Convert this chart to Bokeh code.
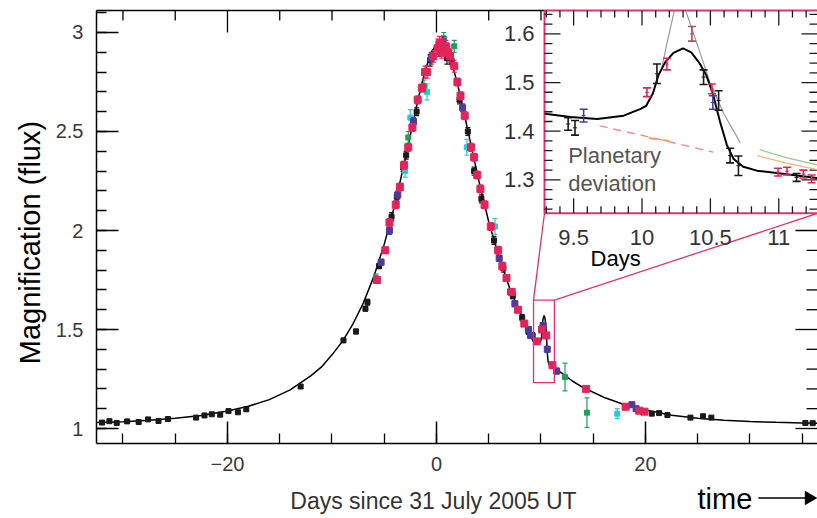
import numpy as np
from bokeh.plotting import figure
from bokeh.models import Range1d, FixedTicker
from bokeh.core.properties import value
from bokeh.embed import file_html
from bokeh.resources import INLINE

# ---------------- data ----------------
# model light curve (days since 31 July 2005, magnification)
curve_t = [-32.5, -30, -27.5, -25, -22.5, -20, -18, -16, -14, -12, -11, -10, -9, -8, -7, -6, -5, -4,
           -3, -2.5, -2, -1.5, -1, -0.5, 0, 0.3, 0.6, 1, 1.5, 2, 2.5, 3, 4, 5, 6, 7, 8, 9,
           9.29, 9.477, 9.672, 9.866, 9.99, 10.03, 10.08, 10.12, 10.17, 10.23, 10.30, 10.36, 10.42,
           10.47, 10.52, 10.57, 10.62, 10.67, 10.74, 10.84, 10.985, 11.131, 11.28,
           12, 13, 14, 16, 18, 20, 22.5, 25, 27.5, 30, 32.5, 35, 36.5]
curve_m = [1.030, 1.034, 1.042, 1.052, 1.066, 1.088, 1.112, 1.146, 1.195, 1.267, 1.311, 1.372, 1.440, 1.527,
           1.634, 1.767, 1.930, 2.128, 2.358, 2.481, 2.605, 2.721, 2.822, 2.899, 2.942, 2.948, 2.942,
           2.910, 2.840, 2.743, 2.629, 2.506, 2.263, 2.044, 1.861, 1.710, 1.585, 1.470,
           1.436, 1.429, 1.425, 1.432, 1.446, 1.452, 1.478, 1.515, 1.542, 1.561, 1.570, 1.562, 1.540,
           1.515, 1.475, 1.420, 1.372, 1.343, 1.327, 1.319, 1.314, 1.309, 1.304,
           1.280, 1.240, 1.208, 1.158, 1.120, 1.094, 1.067, 1.052, 1.042, 1.035, 1.031, 1.028, 1.026]

# observations (time, magnification, error) per telescope colour
black_t = [-32.0, -31.3, -30.6, -29.6, -28.5, -27.6, -26.6, -25.7, -23.0, -22.2, -21.5, -20.7, -19.9, -19.0,
           -18.2, -13.0, -8.9, -7.7, -6.8, -6.6, -5.5, -4.3, -3.8, -3.2, -2.9, -1.9, -0.6, 0.3, 1.0, 1.5,
           2.2, 3.0, 3.6, 4.3, 5.5, 6.4, 7.3, 8.2, 8.8, 9.2, 20.6, 21.3, 22.1, 24.3, 25.5, 26.3, 35.3, 36.0]
black_m = [1.030, 1.037, 1.028, 1.036, 1.033, 1.046, 1.038, 1.048, 1.055, 1.066, 1.072, 1.070, 1.088, 1.082,
           1.097, 1.212, 1.445, 1.490, 1.605, 1.638, 1.82, 2.07, 2.17, 2.32, 2.38, 2.60, 2.86, 2.91, 2.87, 2.85,
           2.66, 2.50, 2.30, 2.16, 1.95, 1.81, 1.67, 1.56, 1.49, 1.47, 1.075, 1.078, 1.068, 1.055, 1.062,
           1.055, 1.028, 1.027]
black_e = [0.007, 0.006, 0.006, 0.007, 0.006, 0.007, 0.006, 0.007, 0.006, 0.007, 0.006, 0.007, 0.007, 0.006,
           0.007, 0.008, 0.010, 0.012, 0.012, 0.015, 0.012, 0.02, 0.02, 0.02, 0.02, 0.02, 0.03, 0.03, 0.03,
           0.02, 0.02, 0.02, 0.02, 0.02, 0.02, 0.02, 0.015, 0.015, 0.015, 0.015, 0.006, 0.006, 0.006, 0.007,
           0.008, 0.006, 0.006, 0.006]

red_t = [-5.7, -4.9, -4.5, -3.9, -3.5, -3.1, -2.7, -2.3, -1.8, -1.4, -1.1, -0.9, -0.3, 0.1, 0.3, 0.5, 0.7,
         0.9, 1.1, 1.3, 1.7, 2.0, 2.3, 2.7, 3.3, 3.6, 3.9, 4.2, 4.6, 5.2, 5.9, 6.3, 6.7, 7.2, 7.8, 8.4,
         9.6, 10.1, 10.5, 11.1, 14.3, 18.1, 19.4, 19.9]
red_m = [1.75, 1.90, 2.04, 2.13, 2.22, 2.33, 2.42, 2.52, 2.66, 2.72, 2.80, 2.80, 2.88, 2.92, 2.95, 2.90, 2.91,
         2.93, 2.90, 2.88, 2.83, 2.75, 2.68, 2.58, 2.42, 2.37, 2.28, 2.21, 2.13, 2.02, 1.90, 1.82, 1.76, 1.69,
         1.60, 1.53, 1.44, 1.50, 1.47, 1.32, 1.20, 1.11, 1.09, 1.085]
red_e = [0.015, 0.015, 0.02, 0.02, 0.02, 0.02, 0.02, 0.02, 0.02, 0.02, 0.03, 0.03, 0.03, 0.03, 0.03, 0.03,
         0.03, 0.03, 0.03, 0.03, 0.03, 0.02, 0.02, 0.02, 0.02, 0.02, 0.02, 0.02, 0.02, 0.02, 0.02, 0.02,
         0.015, 0.015, 0.015, 0.015, 0.012, 0.012, 0.012, 0.012, 0.01, 0.01, 0.01, 0.01]

blue_t = [-5.3, -4.5, -3.7, -2.2, -0.5, 0.6, 2.5, 6.0, 7.1, 7.5, 8.8, 9.0, 10.2, 10.6, 11.5, 18.7, 19.1]
blue_m = [1.84, 2.00, 2.18, 2.55, 2.87, 2.95, 2.62, 1.86, 1.69, 1.63, 1.50, 1.47, 1.52, 1.40, 1.29, 1.12, 1.10]
blue_e = [0.015, 0.02, 0.02, 0.02, 0.03, 0.03, 0.02, 0.015, 0.015, 0.015, 0.012, 0.012, 0.015, 0.015, 0.015,
          0.012, 0.012]

cyan_t = [-3.0, -2.5, -0.9, 2.9, 5.6, 17.3]
cyan_m = [2.30, 2.57, 2.70, 2.42, 2.02, 1.075]
cyan_e = [0.03, 0.04, 0.04, 0.04, 0.04, 0.025]

green_t = [-5.8, -2.7, -1.2, 0.7, 1.7, 12.3, 14.4]
green_m = [1.76, 2.47, 2.73, 2.97, 2.93, 1.26, 1.08]
green_e = [0.02, 0.03, 0.03, 0.03, 0.03, 0.07, 0.075]

# inset: planetary deviation
in_black_t = [9.46, 9.51, 10.109, 10.45, 10.56, 10.644, 10.705, 11.13]
in_black_m = [1.415, 1.407, 1.518, 1.511, 1.463, 1.350, 1.329, 1.305]
in_black_e = [0.013, 0.015, 0.020, 0.015, 0.020, 0.015, 0.020, 0.008]
in_red_t = [10.036, 10.182, 10.511, 10.995, 11.06, 11.18, 11.24]
in_red_m = [1.480, 1.538, 1.487, 1.316, 1.318, 1.312, 1.302]
in_red_e = [0.009, 0.012, 0.010, 0.008, 0.008, 0.008, 0.008]
in_blue_t = [9.573, 10.518]
in_blue_m = [1.432, 1.459]
in_blue_e = [0.013, 0.014]
in_dred_t = [10.365]
in_dred_m = [1.600]
in_dred_e = [0.015]

# alternative (grey / dashed) model lines in the inset
grey1_t = [10.146, 10.19, 10.236]
grey1_m = [1.532, 1.59, 1.647]
grey2_t = [10.32, 10.378, 10.44, 10.498, 10.60, 10.717]
grey2_m = [1.647, 1.600, 1.548, 1.499, 1.435, 1.377]
dash_pink_t = [9.69, 10.1, 10.52]
dash_pink_m = [1.411, 1.385, 1.357]
dash_orange_t = [10.05, 10.20]
dash_orange_m = [1.386, 1.380]
right_green_t = [10.86, 11.06, 11.28]
right_green_m = [1.362, 1.345, 1.331]
right_orange_t = [10.84, 11.05, 11.28]
right_orange_m = [1.350, 1.335, 1.321]

# ticks
x_major = [-20, 0, 20]
x_minor = [-30, -25, -20, -15, -10, -5, 0, 5, 10, 15, 20, 25, 30, 35]
y_major = [1, 1.5, 2, 2.5, 3]
y_minor = [1.0, 1.1, 1.2, 1.3, 1.4, 1.5, 1.6, 1.7, 1.8, 1.9, 2.0, 2.1, 2.2, 2.3, 2.4, 2.5, 2.6, 2.7,
           2.8, 2.9, 3.0, 3.1]
in_x_major = [9.5, 10, 10.5, 11]
in_x_labels = ["9.5", "10", "10.5", "11"]
in_y_major = [1.3, 1.4, 1.5, 1.6]
in_y_labels = ["1.3", "1.4", "1.5", "1.6"]

# ---------------- geometry ----------------
XR0, XR1 = -41.72, 36.46            # whole canvas in days
YR0, YR1 = 0.5455, 3.1616           # whole canvas in magnification
FX0, FX1 = -32.54, 36.46            # visible frame
FY0, FY1 = 0.9242, 3.1111
IX0, IX1 = 9.287, 11.283            # inset window (days)
IY0, IY1 = 1.2314, 1.648            # inset window (magnification)
BOX_L, BOX_B = 10.335, 2.087        # inset box in main coordinates
sx = (IX1 - IX0) / (FX1 - BOX_L)
sy = (IY1 - IY0) / (FY1 - BOX_B)
ix_range = Range1d(IX0 + (XR0 - BOX_L) * sx, IX0 + (XR1 - BOX_L) * sx)
iy_range = Range1d(IY0 + (YR0 - BOX_B) * sy, IY0 + (YR1 - BOX_B) * sy)

BLACK = "#1a1a1a"
RED = "#e3245a"
BLUE = "#4a3c9c"
CYAN = "#33c3d9"
GREEN = "#1f9e5a"
DRED = "#a8505a"
PINK = "#e0336f"
FONT = "Liberation Sans"

p = figure(width=817, height=518, x_range=Range1d(XR0, XR1), y_range=Range1d(YR0, YR1),
           output_backend="svg", toolbar_location=None, title=None,
           min_border=0, min_border_left=0, min_border_right=0, min_border_top=0, min_border_bottom=0,
           extra_x_ranges={"ix": ix_range}, extra_y_ranges={"iy": iy_range})
p.xgrid.visible = False
p.ygrid.visible = False
p.outline_line_color = None
p.background_fill_color = "white"
p.border_fill_color = "white"

xa, ya = p.xaxis[0], p.yaxis[0]
xa.fixed_location = FY0
xa.bounds = (FX0, FX1)
ya.fixed_location = FX0
ya.bounds = (FY0, FY1)
for ax in (xa, ya):
    ax.axis_line_color = "black"
    ax.axis_line_width = 1.5
    ax.major_tick_line_color = "black"
    ax.major_tick_line_width = 1.5
    ax.minor_tick_line_color = "black"
    ax.minor_tick_line_width = 1.3
    ax.major_tick_in = 22
    ax.major_tick_out = 0
    ax.minor_tick_in = 10
    ax.minor_tick_out = 0
    ax.major_label_text_font = FONT
    ax.major_label_text_font_size = "20px"
    ax.major_label_text_color = "#3a3a3a"
    ax.major_label_standoff = 13

xa.ticker = FixedTicker(ticks=x_major, minor_ticks=x_minor)
xa.major_label_overrides = {-20: "\u221220", 0: "0", 20: "20"}
ya.ticker = FixedTicker(ticks=y_major, minor_ticks=y_minor)
ya.major_label_overrides = {1: "1", 1.5: "1.5", 2: "2", 2.5: "2.5", 3: "3"}


def errpoints(t, m, e, color, size, marker="square", cap=5, lw=1.2, **rn):
    t = np.asarray(t, float)
    m = np.asarray(m, float)
    e = np.asarray(e, float)
    p.segment(x0=t, y0=m - e, x1=t, y1=m + e, line_color=color, line_width=lw, **rn)
    p.scatter(x=np.concatenate([t, t]), y=np.concatenate([m + e, m - e]), marker="dash",
              size=cap, line_color=color, line_width=lw, **rn)
    p.scatter(x=t, y=m, marker=marker, size=size, fill_color=color, line_color=color, **rn)


# ---------------- main panel ----------------
p.line(curve_t, curve_m, line_color="black", line_width=1.5)
errpoints(black_t, black_m, black_e, BLACK, 5)
errpoints(cyan_t, cyan_m, cyan_e, CYAN, 5)
errpoints(green_t, green_m, green_e, GREEN, 5)
errpoints(blue_t, blue_m, blue_e, BLUE, 6)
errpoints(red_t, red_m, red_e, RED, 7)

# frame top piece and top/right ticks
p.segment(x0=[FX0], y0=[FY1], x1=[BOX_L], y1=[FY1], line_color="black", line_width=1.5)
top_x = [x for x in x_minor if x < BOX_L]
p.ray(x=top_x, y=[FY1] * len(top_x), length=[22 if x in x_major else 10 for x in top_x],
      angle=-np.pi / 2, length_units="screen", line_color="black", line_width=1.3)
right_y = [y for y in y_minor if y < BOX_B]
p.ray(x=[FX1] * len(right_y), y=right_y, length=[22 if y in y_major else 11 for y in right_y],
      angle=np.pi, length_units="screen", line_color="black", line_width=1.3)

# zoom rectangle and connectors
p.quad(left=[IX0], right=[IX1], bottom=[IY0], top=[IY1], fill_color=None, line_color=PINK, line_width=1.3)
p.segment(x0=[IX0, IX1], y0=[IY1, IY1], x1=[BOX_L, FX1], y1=[BOX_B, BOX_B], line_color=PINK, line_width=1.3)

# ---------------- inset ----------------
p.quad(left=[BOX_L], right=[FX1 + 2], bottom=[BOX_B], top=[FY1], fill_color="white",
       line_color=PINK, line_width=2)
rn = dict(x_range_name="ix", y_range_name="iy")

in_x_minor = [round(9.3 + 0.1 * i, 2) for i in range(20)]
in_y_minor = [round(1.24 + 0.02 * i, 2) for i in range(21)]
xl = [15 if any(abs(x - v) < 1e-6 for v in in_x_major) else 7 for x in in_x_minor]
yl = [16 if any(abs(y - v) < 1e-6 for v in in_y_major) else 8 for y in in_y_minor]
p.ray(x=in_x_minor, y=[IY0] * len(in_x_minor), length=xl, angle=np.pi / 2, length_units="screen",
      line_color=BLACK, line_width=1.3, **rn)
p.ray(x=in_x_minor, y=[IY1] * len(in_x_minor), length=xl, angle=-np.pi / 2, length_units="screen",
      line_color=BLACK, line_width=1.3, **rn)
p.ray(x=[IX0] * len(in_y_minor), y=in_y_minor, length=yl, angle=0, length_units="screen",
      line_color=BLACK, line_width=1.3, **rn)
p.ray(x=[IX1] * len(in_y_minor), y=in_y_minor, length=yl, angle=np.pi, length_units="screen",
      line_color=BLACK, line_width=1.3, **rn)

p.line(dash_pink_t, dash_pink_m, line_color="#ec8f9a", line_width=1.5, line_dash="8 6", **rn)
p.line(dash_orange_t, dash_orange_m, line_color="#f2a25a", line_width=2, line_dash="8 6", **rn)
p.line(right_green_t, right_green_m, line_color="#9cc89c", line_width=1.3, **rn)
p.line(right_orange_t, right_orange_m, line_color="#f2b27a", line_width=1.3, **rn)
p.line(grey1_t, grey1_m, line_color="#9a9a9a", line_width=1.2, **rn)
p.line(grey2_t, grey2_m, line_color="#9a9a9a", line_width=1.2, **rn)
in_mask = [(a, b) for a, b in zip(curve_t, curve_m) if IX0 <= a <= IX1]
p.line([a for a, b in in_mask], [b for a, b in in_mask], line_color="black", line_width=2, **rn)

errpoints(in_blue_t, in_blue_m, in_blue_e, BLUE, 4, marker="dash", cap=8, lw=1.6, **rn)
errpoints(in_red_t, in_red_m, in_red_e, RED, 4, marker="dash", cap=8, lw=1.6, **rn)
errpoints(in_dred_t, in_dred_m, in_dred_e, DRED, 4, marker="dash", cap=8, lw=1.6, **rn)
errpoints(in_black_t, in_black_m, in_black_e, BLACK, 4, marker="dash", cap=8, lw=1.6, **rn)

p.text(x=in_x_major, y=[IY0] * 4, text=in_x_labels, y_offset=24, text_align="center",
       text_baseline="middle", text_font=value(FONT), text_font_size=value("22px"),
       text_color="#333333", **rn)
p.text(x=[IX0] * 4, y=in_y_major, text=in_y_labels, x_offset=-10, text_align="right",
       text_baseline="middle", text_font=value(FONT), text_font_size=value("22px"),
       text_color="#333333", **rn)
p.text(x=[9.46, 9.46], y=[1.350, 1.293], text=["Planetary", "deviation"], text_align="left",
       text_baseline="middle", text_font=value(FONT), text_font_size=value("22px"),
       text_color="#555555", **rn)
p.text(x=[9.807], y=[1.138], text=["Days"], text_align="center", text_baseline="middle",
       text_font=value(FONT), text_font_size=value("22px"), text_color="black", **rn)

# ---------------- outer labels ----------------
p.text(x=[-38.85], y=[1.939], text=["Magnification (flux)"], angle=np.pi / 2, text_align="center",
       text_baseline="middle", text_font=value(FONT), text_font_size=value("29px"), text_color="black")
p.text(x=[-0.29], y=[0.636], text=["Days since 31 July 2005 UT"], text_align="center",
       text_baseline="middle", text_font=value(FONT), text_font_size=value("23px"), text_color="#333333")
p.text(x=[24.98], y=[0.646], text=["time"], text_align="left", text_baseline="middle",
       text_font=value(FONT), text_font_size=value("29px"), text_color="black")
p.segment(x0=[30.8], y0=[0.649], x1=[35.6], y1=[0.649], line_color="black", line_width=1.6)
p.scatter(x=[35.65], y=[0.649], marker="triangle", size=13, angle=-np.pi / 2,
          fill_color="black", line_color="black")

open("out.html", "w").write(file_html(p, INLINE))
